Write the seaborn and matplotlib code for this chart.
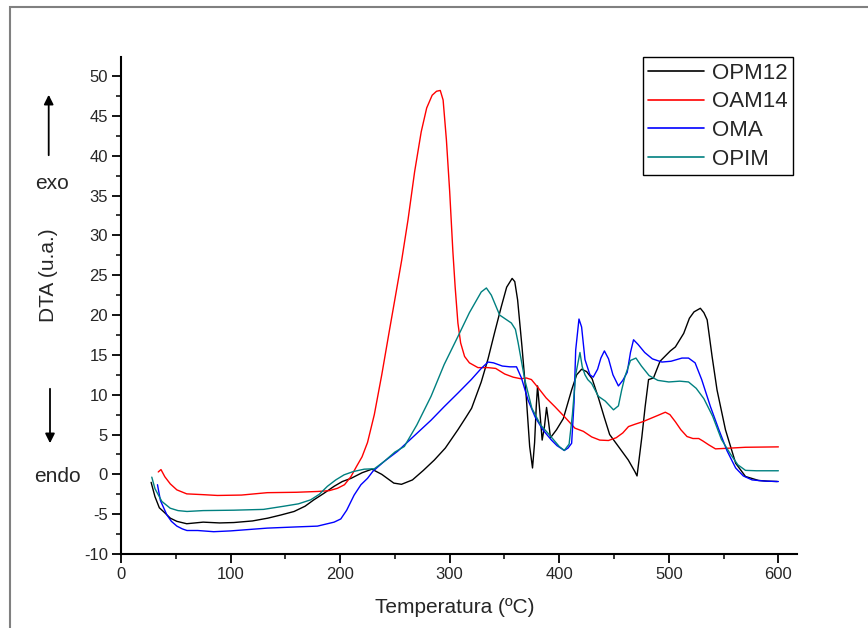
import pandas as pd
import matplotlib
matplotlib.use("Agg")
import matplotlib.pyplot as plt
from matplotlib.patches import Rectangle
from matplotlib.ticker import MultipleLocator
import seaborn as sns

# curves
opm12_t = [27.5, 31, 35, 39, 45, 51, 60, 75, 90, 103, 120, 134, 146, 158, 168, 176, 185, 194.5, 202, 210,
           220, 229, 238, 249, 256, 266, 276, 286, 296, 307.5, 315, 320, 328.8, 335, 341, 347, 352, 357, 359.4, 362,
           366, 370, 373, 375.6, 377.5, 379, 380.2, 382.5, 384.4, 386.5, 388.4, 390.3, 392, 397.5, 403.7, 411.3,
           415.9, 420.4, 425, 430, 436, 441, 446, 454, 463, 469, 471, 475.4, 478.4, 481.5, 486, 492, 501.4, 506,
           513.6, 518.8, 523, 528.8, 532, 535, 539.5, 544, 551.7, 561, 570, 582, 590, 599]
opm12_v = [-1.0, -2.8, -4.2, -4.7, -5.5, -5.9, -6.2, -6.0, -6.1, -6.05, -5.85, -5.5, -5.1, -4.66, -4.0, -3.2, -2.4,
           -1.5, -0.9, -0.5, 0.2, 0.65, 0.0, -1.1, -1.25, -0.7, 0.5, 1.8, 3.3, 5.6, 7.2, 8.3, 11.6, 14.5, 17.8, 21.0,
           23.5, 24.6, 24.2, 21.9, 16, 9.5, 3.5, 0.8, 4.0, 8.5, 11.1, 7.5, 4.3, 6.0, 8.4, 6.5, 4.6, 5.6, 7.0, 10.6,
           12.5, 13.2, 12.9, 12.0, 9.5, 7.2, 5.0, 3.5, 1.8, 0.35, -0.2, 4.7, 8.5, 11.9, 12.1, 14.2, 15.5, 16.0, 17.7,
           19.6, 20.4, 20.85, 20.3, 19.4, 14.8, 10.6, 5.6, 1.4, -0.27, -0.77, -0.85, -0.9]

oam14_t = [34, 36.5, 40, 45, 51, 60, 75, 88, 110, 133.5, 160, 179.3, 190, 197.6, 204, 209.8, 215, 220, 225, 231.2,
           238, 244.9, 250, 256.2, 262, 268, 274, 279, 284, 288, 291.4, 294, 297, 300, 302.9, 305, 307.5, 310, 313.6,
           318, 325.8, 335, 342, 350.2, 358, 365, 370, 374.6, 380, 388, 396, 405, 414.3, 422, 429.6, 437, 444.9, 452,
           458, 463.2, 469.3, 476, 483, 490, 496.8, 501, 506, 511, 516.6, 522, 527.3, 531, 536.5, 542.6, 550, 570, 600]
oam14_v = [0.3, 0.6, -0.3, -1.2, -1.95, -2.45, -2.55, -2.65, -2.6, -2.3, -2.25, -2.15, -2.05, -1.75, -1.3, -0.3,
           1.0, 2.2, 4.0, 7.5, 12.5, 18.0, 22.0, 26.9, 32, 38, 43, 46, 47.6, 48.1, 48.2, 47.0, 42, 35.5, 28, 23.5,
           19.0, 16.5, 14.8, 14.0, 13.4, 13.4, 13.3, 12.6, 12.2, 12.0, 12.1, 11.9, 11.0, 9.6, 8.5, 7.2, 5.8, 5.4,
           4.7, 4.3, 4.25, 4.6, 5.2, 6.0, 6.3, 6.6, 7.0, 7.4, 7.8, 7.5, 6.6, 5.6, 4.75, 4.5, 4.5, 4.2, 3.7, 3.2,
           3.25, 3.4, 3.45]

oma_t = [33.3, 36, 41.9, 46, 51, 56, 60.2, 70, 84.6, 100, 133.5, 160, 179.3, 194.5, 200.6, 206, 212.8, 219, 225,
         230, 240, 252.5, 265, 283, 295, 307.5, 319.7, 328.8, 335, 340, 348, 355, 361, 365.5, 371.6, 378, 385, 392.9,
         398, 404.6, 408, 411.3, 413.5, 415, 418, 420.4, 423.5, 428, 431, 435, 438, 441.2, 445, 449, 454, 458, 462,
         465, 467.8, 472, 478, 485, 493.7, 502, 512, 518, 524, 530, 538, 545.7, 553, 561, 568, 576, 588, 600]
oma_v = [-1.3, -3.3, -5.1, -5.9, -6.5, -6.85, -7.05, -7.05, -7.2, -7.1, -6.75, -6.6, -6.5, -6.0, -5.6, -4.5, -2.6,
         -1.3, -0.5, 0.4, 1.6, 2.9, 4.5, 6.8, 8.5, 10.2, 11.9, 13.3, 14.1, 14.0, 13.6, 13.5, 13.5, 12.1, 9.3, 7.2,
         5.6, 4.3, 3.6, 3.0, 3.3, 3.9, 9.0, 15.6, 19.5, 18.5, 14.4, 12.5, 12.2, 13.2, 14.6, 15.5, 14.5, 12.5, 11.1,
         11.8, 12.8, 15.3, 16.9, 16.3, 15.3, 14.5, 14.1, 14.2, 14.6, 14.6, 14.0, 11.9, 8.5, 5.6, 3.0, 0.8, -0.2,
         -0.7, -0.85, -0.9]

opim_t = [28.1, 31, 37.3, 44.9, 52, 60.2, 75, 102.9, 130, 148.7, 162, 173.1, 181, 188.4, 196, 203.6, 212, 222,
          231.2, 240, 250, 258.6, 270, 283, 295, 307.5, 318, 328.8, 333.5, 338, 345.6, 356.3, 360, 362.5, 368.5, 375,
          383, 392, 400, 404.6, 409, 412, 415, 418.9, 421, 423.5, 426, 429.6, 435.7, 442, 449.5, 454, 457, 460, 465,
          470, 475, 482, 490, 500, 510, 518, 525, 532, 540, 548, 556, 563, 570, 580, 600]
opim_v = [-0.35, -1.8, -3.4, -4.25, -4.55, -4.66, -4.55, -4.5, -4.4, -4.0, -3.7, -3.2, -2.5, -1.5, -0.7, -0.06,
          0.35, 0.65, 0.7, 1.6, 2.8, 3.5, 6.2, 9.8, 13.8, 17.3, 20.3, 22.9, 23.4, 22.5, 20.0, 19.0, 18.2, 16.5, 11.9,
          8.3, 6.2, 4.8, 3.5, 3.0, 3.8, 7.5, 12.5, 15.3, 13.5, 12.5, 11.9, 11.4, 9.8, 9.2, 8.1, 8.6, 10.6, 12.3,
          14.3, 14.6, 13.6, 12.4, 11.8, 11.6, 11.7, 11.6, 10.8, 9.5, 7.3, 4.4, 2.6, 1.2, 0.5, 0.45, 0.45]

names = ["OPM12", "OAM14", "OMA", "OPIM"]
colors = ["#000000", "#ff0000", "#0000ff", "#008080"]

frames = []
for name, t, v in zip(names, [opm12_t, oam14_t, oma_t, opim_t], [opm12_v, oam14_v, oma_v, opim_v]):
    frames.append(pd.DataFrame({"T": t, "DTA": v, "sample": name}))
df = pd.concat(frames, ignore_index=True)

sns.set_style("ticks")
plt.rcParams["font.family"] = ["Liberation Sans", "DejaVu Sans"]
plt.rcParams["axes.unicode_minus"] = False

fig = plt.figure(figsize=(8.68, 6.28), dpi=100)
ax = fig.add_axes([121 / 868, 1 - 554 / 628, 676 / 868, 497 / 628])

sns.lineplot(data=df, x="T", y="DTA", hue="sample", palette=dict(zip(names, colors)),
             estimator=None, sort=False, linewidth=1.0, ax=ax)

ax.set_xlim(0, 617)
ax.set_ylim(-10, 52.4)
ax.xaxis.set_major_locator(MultipleLocator(100))
ax.xaxis.set_minor_locator(MultipleLocator(50))
ax.yaxis.set_major_locator(MultipleLocator(5))
ax.yaxis.set_minor_locator(MultipleLocator(2.5))
ax.tick_params(which="major", direction="out", length=6.5, width=1.3, labelsize=12, pad=3, color="k")
ax.tick_params(which="minor", direction="out", length=3.5, width=1.1, color="k")
for s in ["top", "right"]:
    ax.spines[s].set_visible(False)
for s in ["left", "bottom"]:
    ax.spines[s].set_linewidth(1.5)
    ax.spines[s].set_color("k")

ax.set_xlabel("Temperatura (ºC)", fontsize=15)
ax.set_ylabel("DTA (u.a.)", fontsize=15)
ax.xaxis.set_label_coords(0.494, -0.088)
ax.yaxis.set_label_coords(-0.093, 0.56)

handles, labels = ax.get_legend_handles_labels()
leg = ax.legend(handles, labels, loc="upper right", bbox_to_anchor=(793 / 868, 1 - 57 / 628),
                bbox_transform=fig.transFigure, fontsize=16, frameon=True, fancybox=False,
                edgecolor="k", framealpha=1, handlelength=2.5, handletextpad=0.35,
                labelspacing=0.35, borderpad=0.25, borderaxespad=0)
leg.get_frame().set_linewidth(1.0)
for line in leg.get_lines():
    line.set_linewidth(1.2)

# exo / endo markers
fig.text(52 / 868, 1 - 184 / 628, "exo", fontsize=15, ha="center", va="center")
fig.text(57 / 868, 1 - 477 / 628, "endo", fontsize=15, ha="center", va="center")
ax.annotate("", xy=(48.7 / 868, 1 - 92 / 628), xytext=(48.7 / 868, 1 - 158 / 628), xycoords="figure fraction",
            textcoords="figure fraction",
            arrowprops=dict(arrowstyle="-|>", color="k", lw=1.3, mutation_scale=14))
ax.annotate("", xy=(50 / 868, 1 - 446 / 628), xytext=(50 / 868, 1 - 386 / 628), xycoords="figure fraction",
            textcoords="figure fraction",
            arrowprops=dict(arrowstyle="-|>", color="k", lw=1.3, mutation_scale=14))

# grey outer frame
fig.add_artist(Rectangle((10 / 868, -0.1), 1.2, 1.1 - 7 / 628, transform=fig.transFigure,
                         fill=False, edgecolor="#808080", linewidth=1.5))

fig.savefig("out.png", dpi=100)
